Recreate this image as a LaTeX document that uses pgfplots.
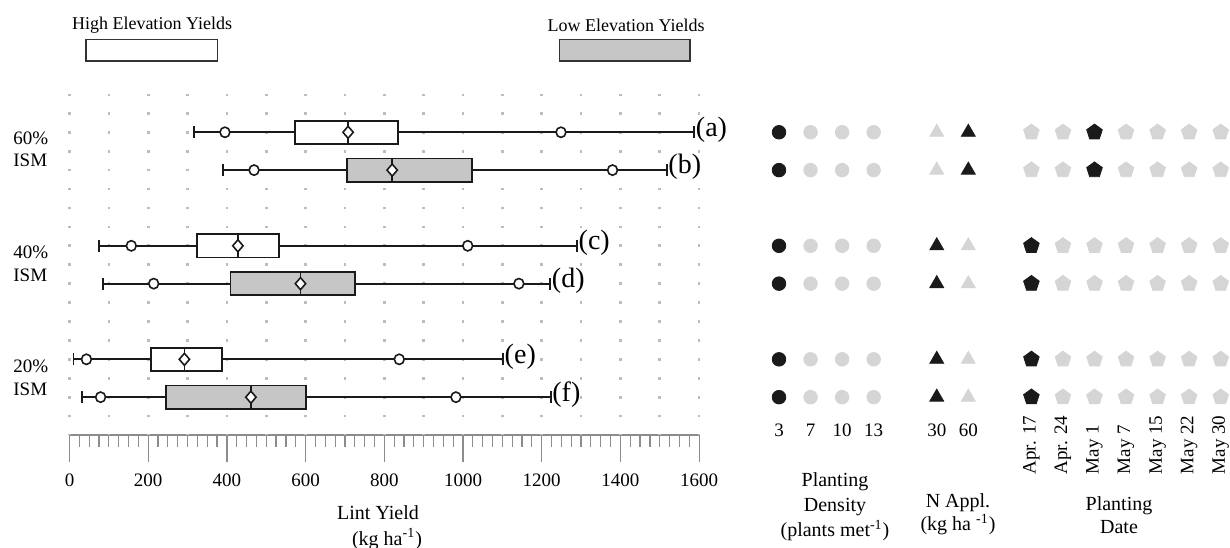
\documentclass[border=0pt]{standalone}
\usepackage{fontspec}
\setmainfont{Liberation Serif}
\usepackage{pgfplots}
\pgfplotsset{compat=1.18}
\usepgfplotslibrary{statistics}

\definecolor{boxgray}{HTML}{C6C6C6}
\definecolor{ink}{HTML}{1A1A1A}
\definecolor{offmark}{HTML}{D5D5D5}
\definecolor{griddot}{HTML}{BDBDBD}
\definecolor{axisgray}{HTML}{8C8C8C}

\pgfplotsset{
  yieldbox/.style={
    boxplot prepared={#1},
    draw=ink, line width=0.9pt,
    boxplot/box extend=0.615,
    boxplot/whisker extend=0.31,
  },
  highbox/.style={yieldbox={#1}, boxplot/every box/.style={draw=ink, fill=white}},
  lowbox/.style={yieldbox={#1}, boxplot/every box/.style={draw=ink, fill=boxgray}},
  pctmark/.style={only marks, mark=*, mark size=2.45pt,
    mark options={draw=ink, fill=white, line width=0.8pt, yscale=1.05}},
  meanmark/.style={only marks, mark=diamond*, mark size=3pt,
    mark options={draw=ink, fill=white, line width=0.8pt, xscale=1.15}},
}
\tikzset{
  rowtag/.style={anchor=west, inner sep=0.6pt, yshift=1.5pt,
    font=\fontsize{14}{16}\selectfont},
}

\begin{document}
\begin{tikzpicture}

% ---------- legend ----------
\node[font=\fontsize{9}{10}\selectfont] at (76pt,-12.5pt) {High Elevation Yields};
\draw[draw=black!80, line width=0.75pt, fill=white] (43pt,-19.75pt) rectangle (108.75pt,-30.5pt);
\node[font=\fontsize{9}{10}\selectfont] at (313pt,-12.5pt) {Low Elevation Yields};
\draw[draw=black!80, line width=0.75pt, fill=boxgray] (279.85pt,-19.75pt) rectangle (345pt,-30.5pt);

% ---------- lint yield box plots ----------
\begin{axis}[
  at={(34.75pt,-217.5pt)}, anchor=south west,
  scale only axis, width=314.8pt, height=170.3pt,
  xmin=0, xmax=1600, ymin=2, ymax=11,
  clip=false,
  axis y line=none,
  axis x line*=bottom,
  x axis line style={draw=axisgray, line width=0.6pt, -},
  xtick={0,200,...,1600},
  minor x tick num=7,
  tick align=outside,
  major tick length=13.5pt, minor tick length=6pt,
  every tick/.style={draw=axisgray, line width=0.6pt},
  extra x ticks={0,100,...,1600},
  extra x tick labels={},
  extra x tick style={grid=major, major tick length=0pt},
  grid style={draw=griddot, line width=1.35pt,
    dash pattern=on 1.35pt off 8.11pt, dash phase=0.675pt},
  tick label style={font=\fontsize{9.5}{11}\selectfont},
  xticklabel style={yshift=-2.5pt},
  /pgf/number format/assume math mode=true,
  /pgf/number format/1000 sep={},
  boxplot/draw direction=x,
]
% (a) high elevation, 60% ISM
\addplot[highbox={draw position=10, lower whisker=316, lower quartile=574,
  median=708, upper quartile=835, upper whisker=1588}] coordinates {};
% (b) low elevation, 60% ISM
\addplot[lowbox={draw position=9, lower whisker=391, lower quartile=705,
  median=820, upper quartile=1022, upper whisker=1518}] coordinates {};
% (c) high elevation, 40% ISM
\addplot[highbox={draw position=7, lower whisker=74, lower quartile=323,
  median=428, upper quartile=533, upper whisker=1290}] coordinates {};
% (d) low elevation, 40% ISM
\addplot[lowbox={draw position=6, lower whisker=85, lower quartile=409,
  median=587, upper quartile=725, upper whisker=1222}] coordinates {};
% (e) high elevation, 20% ISM
\addplot[highbox={draw position=4, lower whisker=10, lower quartile=207,
  median=292, upper quartile=388, upper whisker=1102}] coordinates {};
% (f) low elevation, 20% ISM
\addplot[lowbox={draw position=3, lower whisker=31, lower quartile=246,
  median=461, upper quartile=601, upper whisker=1223}] coordinates {};

% 5th and 95th percentiles
\addplot[pctmark] coordinates {
  (395,10) (1249,10) (469,9) (1380,9)
  (157,7) (1012,7) (214,6) (1142,6)
  (43,4) (838,4) (79,3) (982,3)};
% means
\addplot[meanmark] coordinates {
  (708,10) (820,9) (428,7) (587,6) (292,4) (461,3)};

\node[rowtag] at (axis cs:1588,10) {(a)};
\node[rowtag] at (axis cs:1518,9) {(b)};
\node[rowtag] at (axis cs:1290,7) {(c)};
\node[rowtag] at (axis cs:1222,6) {(d)};
\node[rowtag] at (axis cs:1102,4) {(e)};
\node[rowtag] at (axis cs:1223,3) {(f)};
\end{axis}

% row group labels
\node[anchor=west, align=left, inner sep=0pt, font=\fontsize{9.5}{11.25}\selectfont] at (6.5pt,-74.75pt) {60\%\\ISM};
\node[anchor=west, align=left, inner sep=0pt, font=\fontsize{9.5}{11.25}\selectfont] at (6.5pt,-132pt) {40\%\\ISM};
\node[anchor=west, align=left, inner sep=0pt, font=\fontsize{9.5}{11.25}\selectfont] at (6.5pt,-189pt) {20\%\\ISM};

% x-axis title
\node[font=\fontsize{10}{12}\selectfont] at (189pt,-256.5pt) {Lint Yield};
\node[font=\fontsize{10}{12}\selectfont] at (193.5pt,-269.5pt) {(kg ha\textsuperscript{-1})};

% ---------- management settings ----------
\begin{axis}[
  at={(389.5pt,-217.5pt)}, anchor=south west,
  scale only axis, width=220.85pt, height=170.3pt,
  xmin=0, xmax=14, ymin=2, ymax=11,
  clip=false,
  axis line style={draw=none},
  ytick=\empty,
  xtick={0,1,2,3,5,6},
  xticklabels={3,7,10,13,30,60},
  major tick length=0pt,
  tick style={draw=none},
  xticklabel style={yshift=9.15pt},
  extra x ticks={8,9,10,11,12,13,14},
  extra x tick labels={Apr. 17,Apr. 24,May 1,May 7,May 15,May 22,May 30},
  extra x tick style={xticklabel style={rotate=90, anchor=west, xshift=-32.3pt,
    font=\fontsize{9.5}{11}\selectfont}},
  tick label style={font=\fontsize{9.5}{11}\selectfont},
]
% planting density (plants per metre)
\addplot[only marks, mark=*, mark size=3.4pt, color=ink] coordinates {
  (0,10) (0,9) (0,7) (0,6) (0,4) (0,3)};
\addplot[only marks, mark=*, mark size=3.4pt, color=offmark] coordinates {
  (1,10) (2,10) (3,10) (1,9) (2,9) (3,9)
  (1,7) (2,7) (3,7) (1,6) (2,6) (3,6)
  (1,4) (2,4) (3,4) (1,3) (2,3) (3,3)};
% nitrogen application
\addplot[only marks, mark=triangle*, mark size=4pt, color=ink] coordinates {
  (6,10) (6,9) (5,7) (5,6) (5,4) (5,3)};
\addplot[only marks, mark=triangle*, mark size=4pt, color=offmark] coordinates {
  (5,10) (5,9) (6,7) (6,6) (6,4) (6,3)};
% planting date
\addplot[only marks, mark=pentagon*, mark size=4.1pt, color=ink] coordinates {
  (10,10) (10,9) (8,7) (8,6) (8,4) (8,3)};
\addplot[only marks, mark=pentagon*, mark size=4.1pt, color=offmark] coordinates {
  (8,10) (9,10) (11,10) (12,10) (13,10) (14,10)
  (8,9) (9,9) (11,9) (12,9) (13,9) (14,9)
  (9,7) (10,7) (11,7) (12,7) (13,7) (14,7)
  (9,6) (10,6) (11,6) (12,6) (13,6) (14,6)
  (9,4) (10,4) (11,4) (12,4) (13,4) (14,4)
  (9,3) (10,3) (11,3) (12,3) (13,3) (14,3)};
\end{axis}

% panel titles
\node[align=center, font=\fontsize{10}{12.5}\selectfont] at (417.5pt,-253.35pt)
  {Planting\\Density\\(plants met\textsuperscript{-1})};
\node[align=center, font=\fontsize{10}{11.5}\selectfont] at (479pt,-257.25pt)
  {N Appl.\\(kg ha \textsuperscript{-1})};
\node[align=center, font=\fontsize{10}{11.5}\selectfont] at (559.5pt,-257.5pt)
  {Planting\\Date};

\pgfresetboundingbox
\path (0pt,0pt) rectangle (615pt,-273.5pt);
\end{tikzpicture}
\end{document}
